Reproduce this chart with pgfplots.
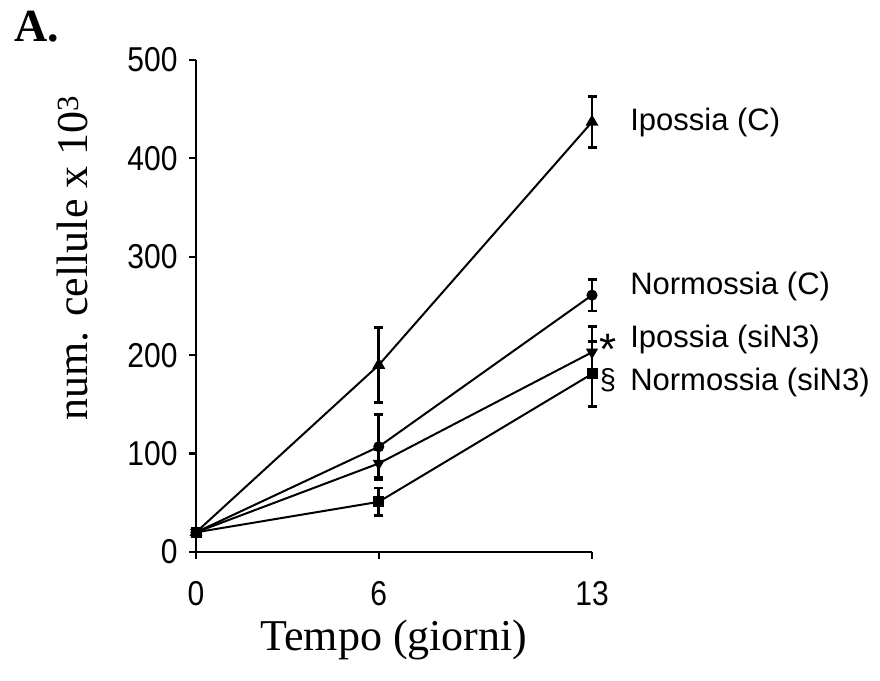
\documentclass[border=0pt]{standalone}
\usepackage{pgfplots}
\pgfplotsset{compat=1.18}
\usepackage{fontspec}
\setmainfont{Liberation Serif}
\newfontfamily\arial{Liberation Sans}
\begin{document}
\begin{tikzpicture}
\path[use as bounding box] (0,0) rectangle (880pt,680pt);
\begin{axis}[
  at={(196pt,128pt)}, anchor=south west,
  scale only axis, width=396pt, height=492pt,
  xmin=0, xmax=13, ymin=0, ymax=500,
  axis x line*=bottom, axis y line*=left,
  axis line style={line width=2.2pt, black},
  xtick={0,6,13}, ytick={0,100,200,300,400,500},
  tick align=outside, major tick length=7pt,
  tick style={line width=2.2pt, black},
  /pgf/number format/assume math mode=true,
  tick label style={font=\arial\fontsize{30}{30}\selectfont},
  yticklabel={\scalebox{1}[1.15]{\pgfmathprintnumber{\tick}}},
  xticklabel={\scalebox{1}[1.15]{\pgfmathprintnumber{\tick}}},
  yticklabel style={xshift=-8pt},
  xticklabel style={yshift=-19pt},
  clip=false,
  error bars/y dir=both, error bars/y explicit,
  error bars/error bar style={line width=2.8pt, black},
  error bars/error mark options={rotate=90, mark size=4.5pt, line width=2.8pt, black},
]
% Ipossia (C)
\addplot[black, line width=2pt, mark=triangle*, mark size=5.5pt, mark options={fill=black, solid}] coordinates {
 (0,20) +- (0,2) (6,190) +- (0,38) (13,437) +- (0,26)};
% Normossia (C)
\addplot[black, line width=2pt, mark=*, mark size=4.5pt, mark options={fill=black}] coordinates {
 (0,20) +- (0,2) (6,107) +- (0,33) (13,261) +- (0,16)};
% Ipossia (siN3)
\addplot[black, line width=2pt, mark=triangle*, mark size=5pt, mark options={rotate=180, fill=black}] coordinates {
 (0,20) +- (0,2) (6,90) +- (0,14) (13,203) +- (0,26)};
% Normossia (siN3)
\addplot[black, line width=2pt, mark=square*, mark size=4.5pt, mark options={fill=black}] coordinates {
 (0,20) +- (0,2) (6,51) +- (0,14) (13,181) +- (0,33)};

\node[anchor=west, inner sep=0pt, font=\arial\fontsize{31}{31}\selectfont] at (axis cs:14.25,437) {Ipossia (C)};
\node[anchor=west, inner sep=0pt, font=\arial\fontsize{31}{31}\selectfont] at (axis cs:14.25,270) {Normossia (C)};
\node[anchor=west, inner sep=0pt, font=\arial\fontsize{31}{31}\selectfont] at (axis cs:14.25,216) {Ipossia (siN3)};
\node[anchor=west, inner sep=0pt, font=\arial\fontsize{31}{31}\selectfont] at (axis cs:14.25,172) {Normossia (siN3)};
\node[inner sep=0pt, font=\arial\fontsize{44}{44}\selectfont] at (axis cs:13.52,206) {*};
\node[inner sep=0pt, font=\arial\fontsize{29}{29}\selectfont] at (axis cs:13.52,175) {\S};
\end{axis}
\node[font=\fontsize{44}{44}\selectfont] at (394pt,40pt) {Tempo (giorni)};
\node[rotate=90, font=\fontsize{44}{44}\selectfont] at (73pt,422pt) {num. cellule x 10\textsuperscript{3}};
\node[font=\bfseries\fontsize{46}{46}\selectfont] at (37pt,653pt) {A.};
\end{tikzpicture}
\end{document}
